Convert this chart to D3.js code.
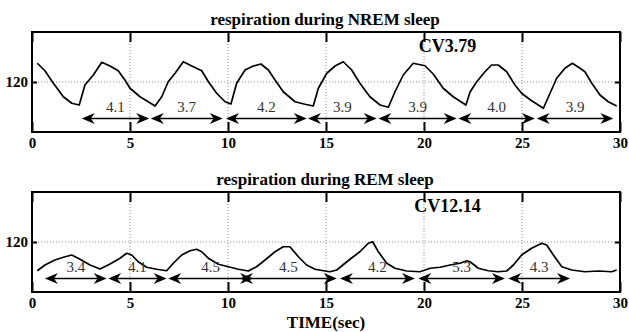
<!DOCTYPE html>
<html>
<head>
<meta charset="utf-8">
<script src="https://cdn.jsdelivr.net/npm/d3@7"></script>
<style>
    body { margin: 0; background: #fff; }
    text { font-family: "Liberation Serif", "DejaVu Serif", serif; }
    .bold { font-weight: bold; }
    .grid { stroke: #8a8a8a; stroke-width: 1; stroke-dasharray: 1,2; }
    .trace { fill: none; stroke: #000; stroke-width: 1.7; stroke-linejoin: round; }
</style>
</head>
<body>
<div id="chart"></div>
<script>
// time axis (sec)
var xTicks = [0, 5, 10, 15, 20, 25, 30];
var yTicks = [120];

// NREM trace
var nremTime = [0.27, 0.66, 1.09, 1.60, 2.03, 2.41, 2.70, 3.13, 3.56, 3.98, 4.40, 4.74, 5.00, 5.51, 5.93, 6.28,
                6.62, 6.95, 7.30, 7.72, 8.15, 8.66, 9.00, 9.42, 9.85, 10.15, 10.44, 10.87, 11.29, 11.68, 12.06,
                12.40, 12.82, 13.42, 13.93, 14.35, 14.61, 15.04, 15.46, 15.88, 16.31, 16.73, 17.24, 17.76, 18.18,
                18.52, 18.94, 19.45, 20.05, 20.47, 20.98, 21.49, 22.00, 22.14, 22.35, 22.69, 23.11, 23.45, 23.79,
                24.22, 24.64, 24.98, 25.49, 26.09, 26.43, 26.77, 27.19, 27.57, 27.96, 28.21, 28.56, 28.98, 29.40, 29.83];
var nremValue = [127.5, 124.5, 119.5, 114.1, 111.5, 110.8, 118.8, 122.8, 127.9, 126.4, 124.5, 120.8, 117.5, 114.1, 112.1, 110.4,
                 114.1, 120.1, 123.5, 128.1, 126.4, 124.5, 120.1, 115.5, 112.1, 111.2, 119.5, 124.8, 126.4, 127.2, 124.8,
                 120.8, 116.1, 112.1, 111.1, 110.4, 117.5, 123.5, 126.4, 128.1, 124.8, 119.5, 114.1, 110.8, 109.9,
                 116.1, 122.8, 127.5, 126.5, 123.2, 117.5, 114.1, 111.5, 110.8, 116.0, 120.1, 124.1, 126.8, 126.8,
                 124.1, 118.8, 115.5, 112.5, 109.5, 115.5, 121.5, 125.5, 127.5, 125.5, 124.1, 119.5, 114.8, 112.1, 110.4];

// REM trace
var remTime = [0.27, 0.66, 1.17, 1.60, 2.03, 2.45, 2.96, 3.47, 3.98, 4.49, 4.83, 5.09, 5.42, 5.85, 6.36, 6.87,
               7.21, 7.64, 8.06, 8.40, 8.66, 9.00, 9.51, 10.02, 10.53, 11.04, 11.46, 11.89, 12.40, 12.82, 13.16,
               13.59, 14.01, 14.44, 14.95, 15.20, 15.55, 15.97, 16.39, 16.73, 17.16, 17.38, 17.67, 18.10, 18.52,
               19.12, 19.80, 20.31, 20.82, 21.33, 21.84, 22.18, 22.35, 22.77, 23.28, 23.79, 24.22, 24.56, 24.98,
               25.49, 26.01, 26.26, 26.60, 27.03, 27.54, 28.21, 28.89, 29.58, 29.83];
var remValue = [108.5, 110.8, 112.8, 113.9, 114.8, 113.1, 110.8, 109.2, 111.2, 113.5, 115.5, 114.8, 112.1, 109.9, 109.1, 108.5,
                111.5, 114.8, 116.5, 117.1, 116.1, 113.5, 111.1, 110.1, 109.1, 108.4, 110.1, 112.8, 116.1, 118.1, 118.1,
                114.1, 110.8, 109.1, 108.4, 108.1, 108.8, 111.5, 114.1, 116.1, 119.5, 120.1, 116.1, 111.5, 109.5,
                108.4, 108.1, 109.5, 109.9, 110.8, 111.5, 112.5, 112.1, 109.5, 108.5, 108.1, 108.4, 110.8, 114.8,
                117.5, 119.5, 118.8, 114.8, 110.1, 108.8, 108.1, 108.4, 108.1, 108.8];

// breath intervals (start, end in sec) and labels
var nremStart = [2.54, 6.06, 9.90, 14.08, 17.67, 21.75, 25.75];
var nremEnd = [5.98, 9.73, 14.02, 17.59, 21.67, 25.66, 29.66];
var nremLabels = ["4.1", "3.7", "4.2", "3.9", "3.9", "4.0", "3.9"];
var remStart = [0.66, 3.89, 6.95, 10.61, 15.71, 19.71, 24.30];
var remEnd = [3.81, 6.87, 11.28, 15.55, 19.54, 24.13, 27.45];
var remLabels = ["3.4", "4.1", "4.5", "4.5", "4.2", "5.3", "4.3"];

var titles = ["respiration during NREM sleep", "respiration during REM sleep"];
var cvLabels = ["CV3.79", "CV12.14"];

function init()
{
    var svg = d3.select('#chart').append('svg')
        .attr('width', 629)
        .attr('height', 332);

    var x = d3.scaleLinear().domain([0, 30]).range([32, 620]);

    var panels = [
        { top: 32, time: nremTime, value: nremValue, start: nremStart, end: nremEnd, labels: nremLabels,
          title: titles[0], cv: cvLabels[0] },
        { top: 192, time: remTime, value: remValue, start: remStart, end: remEnd, labels: remLabels,
          title: titles[1], cv: cvLabels[1] }
    ];

    panels.forEach(function(p)
    {
        var y = d3.scaleLinear().domain([100, 140]).range([p.top + 100, p.top]);
        var g = svg.append('g');

        // grid
        g.selectAll('.vgrid').data(xTicks.slice(1, -1)).enter().append('line')
            .attr('class', 'grid')
            .attr('x1', function(d) { return x(d); })
            .attr('x2', function(d) { return x(d); })
            .attr('y1', y(140)).attr('y2', y(100));
        g.selectAll('.hgrid').data(yTicks).enter().append('line')
            .attr('class', 'grid')
            .attr('x1', x(0)).attr('x2', x(30))
            .attr('y1', function(d) { return y(d); })
            .attr('y2', function(d) { return y(d); });

        // axes
        g.append('g').attr('transform', 'translate(0,' + y(100) + ')')
            .call(d3.axisBottom(x).tickValues(xTicks).tickSize(-10).tickPadding(5));
        g.append('g').attr('transform', 'translate(0,' + y(140) + ')')
            .call(d3.axisTop(x).tickValues(xTicks).tickSize(-10).tickFormat(''));
        g.append('g').attr('transform', 'translate(' + x(0) + ',0)')
            .call(d3.axisLeft(y).tickValues(yTicks).tickSize(-5).tickPadding(4));
        g.append('g').attr('transform', 'translate(' + x(30) + ',0)')
            .call(d3.axisRight(y).tickValues(yTicks).tickSize(-5).tickFormat(''));

        g.selectAll('.domain').remove();
        g.selectAll('.tick line').attr('stroke', '#000').attr('stroke-width', 2);
        g.selectAll('.tick text')
            .attr('fill', '#000')
            .style('font-family', '"Liberation Serif", serif')
            .style('font-weight', 'bold')
            .style('font-size', '15px');

        // frame
        g.append('rect')
            .attr('x', x(0)).attr('y', y(140))
            .attr('width', x(30) - x(0)).attr('height', y(100) - y(140))
            .attr('fill', 'none').attr('stroke', '#000').attr('stroke-width', 2);

        // trace
        var line = d3.line()
            .x(function(d, i) { return x(p.time[i]); })
            .y(function(d) { return y(d); });
        g.append('path').attr('class', 'trace').attr('d', line(p.value));

        // interval arrows
        var ay = p.top + 86.5;
        var head = 'M0,0 L-13,-5.5 L-9,0 L-13,5.5 Z';
        var arrows = g.selectAll('.arrow').data(p.labels).enter().append('g');
        arrows.append('line')
            .attr('x1', function(d, i) { return x(p.start[i]) + 4; })
            .attr('x2', function(d, i) { return x(p.end[i]) - 4; })
            .attr('y1', ay).attr('y2', ay)
            .attr('stroke', '#000').attr('stroke-width', 1.6);
        arrows.append('path')
            .attr('d', head)
            .attr('transform', function(d, i) { return 'translate(' + x(p.end[i]) + ',' + ay + ')'; });
        arrows.append('path')
            .attr('d', head)
            .attr('transform', function(d, i) { return 'translate(' + x(p.start[i]) + ',' + ay + ') rotate(180)'; });
        arrows.append('text')
            .attr('x', function(d, i) { return x((p.start[i] + p.end[i]) / 2); })
            .attr('y', ay - 7)
            .attr('text-anchor', 'middle')
            .attr('font-size', 15)
            .attr('fill', '#333')
            .text(function(d) { return d; });

        // titles
        svg.append('text').attr('class', 'bold')
            .attr('x', 325).attr('y', p.top - 7)
            .attr('text-anchor', 'middle')
            .attr('font-size', 17)
            .text(p.title);
        svg.append('text').attr('class', 'bold')
            .attr('x', x(21.2)).attr('y', p.top + 20)
            .attr('text-anchor', 'middle')
            .attr('font-size', 18)
            .text(p.cv);
    });

    svg.append('text').attr('class', 'bold')
        .attr('x', 326).attr('y', 328)
        .attr('text-anchor', 'middle')
        .attr('font-size', 17)
        .text('TIME(sec)');
}
window.addEventListener('load', init, false);
</script>
</body>
</html>
